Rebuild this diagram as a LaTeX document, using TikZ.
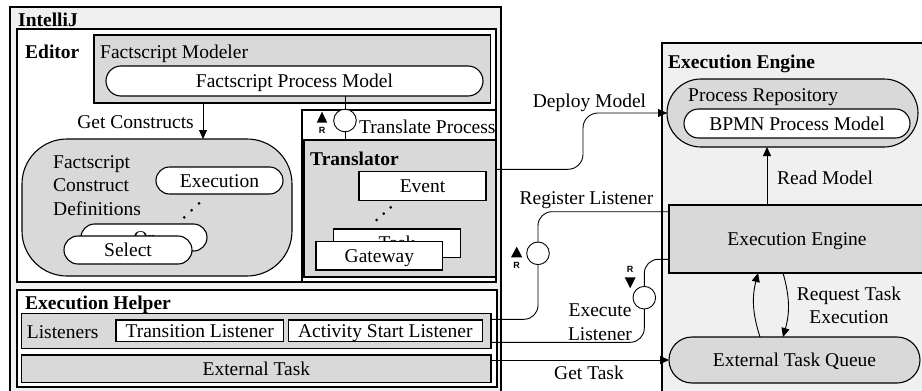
\documentclass[tikz,border=0pt]{standalone}
\usepackage{fontspec}
\setmainfont{Liberation Serif}
\newfontfamily\rfont{Liberation Sans}
\usetikzlibrary{arrows.meta,calc}
\definecolor{lightbg}{HTML}{F0F0F0}
\definecolor{boxgray}{HTML}{D9D9D9}
\begin{document}
\begin{tikzpicture}[x=1pt,y=-1pt,
  every node/.style={font=\fontsize{19.5}{23.5}\selectfont},
  box/.style={draw, line width=1.1pt, inner sep=0pt, outer sep=0pt, text height=13pt, text depth=0pt},
  wbox/.style={box, fill=white},
  gbox/.style={box, fill=boxgray},
  lbox/.style={box, fill=lightbg},
  txt/.style={inner sep=0pt, text height=13pt, text depth=0pt},
  ttl/.style={txt, anchor=west, font=\fontsize{19.5}{23.5}\selectfont\bfseries},
  conn/.style={draw, line width=0.9pt},
  arr/.style={conn, -{Triangle[length=9pt,width=8pt]}},
  lolli/.style={circle, draw, fill=white, line width=0.9pt, minimum size=22.6pt, inner sep=0pt},
  rmark/.style={inner sep=0pt, font=\fontsize{9}{9}\selectfont\rfont\bfseries},
  dot/.style={circle, fill, inner sep=0pt, minimum size=3pt},
]
\useasboundingbox (0,0) rectangle (922,391);
\clip (0,0) rectangle (922,391);

% ---------------- IntelliJ ----------------
\node[lbox, minimum width=491pt, minimum height=390pt, anchor=north west] (ij) at (10,7) {};
\node[ttl] (ijt) at (18,20) {IntelliJ};
\node[wbox, minimum width=479pt, minimum height=253pt] (editor) at (256.5,155.5) {};
\node[ttl] (edt) at (25,52) {Editor};
\draw[line width=1.1pt] (302,282) -- (302,110) -- (496,110);

\node[gbox, minimum width=396.7pt, minimum height=68pt] (modeler) at (292.35,69) {};
\node[txt, anchor=west] (modt) at (100,52) {Factscript Modeler};
\node[wbox, rounded corners=15pt, minimum width=377pt, minimum height=30pt] (pmodel) at (294.5,81) {Factscript Process Model};

\node[gbox, rounded corners=45pt, minimum width=270pt, minimum height=137pt] (defs) at (157,207.5) {};
\node[anchor=west, align=left, inner sep=0pt] (defst) at (53,185.5) {Factscript\\Construct\\Definitions};
\node[wbox, rounded corners=13.5pt, minimum width=127pt, minimum height=27pt] (cexec) at (219.5,180.5) {Execution};
\node[dot] (cd1) at (184.3,217.3) {};
\node[dot] (cd2) at (191.6,210.3) {};
\node[dot] (cd3) at (199,203.3) {};
\node[wbox, rounded corners=13.5pt, minimum width=126pt, minimum height=27pt] (cor) at (144,237.5) {Or};
\node[wbox, rounded corners=14pt, minimum width=128pt, minimum height=28pt] (csel) at (128,250) {Select};

\draw[arr] ([xshift=-89.35pt]modeler.south) -- ([xshift=-89.35pt]modeler.south |- defs.north);
\node[txt, anchor=east] (gct) at (194,122) {Get Constructs};

\node[gbox, minimum width=192pt, minimum height=137pt] (trans) at (400,208.5) {};
\node[ttl] (trt) at (310,159) {Translator};
\node[wbox, minimum width=127pt, minimum height=29pt] (tev) at (422.5,186.2) {Event};
\node[dot] (td1) at (376.7,220) {};
\node[dot] (td2) at (383.7,213.7) {};
\node[dot] (td3) at (390.7,207.3) {};
\node[wbox, minimum width=127.4pt, minimum height=28.7pt] (ttask) at (397,243.35) {Task};
\node[wbox, minimum width=126.7pt, minimum height=28.3pt] (tgw) at (379.35,255.85) {Gateway};

\draw[conn] ([xshift=50.5pt]pmodel.south) -- ([xshift=50.5pt]pmodel.south |- trans.north);
\node[lolli] (tpc) at (345,120.5) {};
\fill (316.7,122.7) -- (327.3,122.7) -- (322,111.7) -- cycle;
\node[rmark] (tr) at (322,130.3) {R};
\node[txt, anchor=west] (tpt) at (359,127) {Translate Process};

% ---------------- Execution Helper ----------------
\node[wbox, minimum width=480pt, minimum height=97pt] (helper) at (257,338.5) {};
\node[ttl] (eht) at (25,302.7) {Execution Helper};
\node[gbox, minimum width=469.3pt, minimum height=35pt] (lis) at (256.35,330.8) {};
\node[txt, anchor=west] (list) at (26.7,331.7) {Listeners};
\node[wbox, minimum width=167.3pt, minimum height=21.7pt] (tl) at (199.65,330.85) {Transition Listener};
\node[wbox, minimum width=194pt, minimum height=21.7pt] (al) at (385.3,330.85) {Activity Start Listener};
\node[gbox, minimum width=469.3pt, minimum height=27.7pt] (ext) at (256.35,368.85) {External Task};

% ---------------- Execution Engine ----------------
\node[lbox, minimum width=270pt, minimum height=360pt, anchor=north west] (ee) at (662,43) {};
\node[ttl] (eet) at (668,62) {Execution Engine};
\node[gbox, rounded corners=34pt, minimum width=251pt, minimum height=68pt] (repo) at (792.5,113) {};
\node[txt, anchor=west] (repot) at (688,95) {Process Repository};
\node[wbox, rounded corners=14.5pt, minimum width=226pt, minimum height=29pt] (bpmn) at (797,123.5) {BPMN Process Model};
\node[gbox, minimum width=256pt, minimum height=68pt] (engbox) at (797,239) {Execution Engine};
\node[gbox, rounded corners=23pt, minimum width=251pt, minimum height=46pt] (queue) at (794.5,360) {External Task Queue};

\draw[arr] ([xshift=-30pt]engbox.north) -- ([xshift=-30pt]engbox.north |- repo.south);
\node[txt, anchor=west] (rmt) at (777,178) {Read Model};

\draw[arr] ([xshift=-34.5pt]queue.north) to[bend left=16] ([xshift=-39pt]engbox.south);
\draw[arr] ([xshift=-14pt]engbox.south) to[bend left=16] ([xshift=-11.5pt]queue.north);
\node[align=center, inner sep=0pt] (rtt) at (849,305.5) {Request Task\\Execution};

% ---------------- Connectors ----------------
\coordinate (dm1) at (583,169.3);
\coordinate (dm2) at (583,113);
\draw[arr, rounded corners=15pt] (trans.east |- dm1) -- (dm1) -- (dm2) -- (repo.west);
\node[txt] (dmt) at (589.5,100.5) {Deploy Model};

\coordinate (rl1) at (538,211.7);
\coordinate (rl2) at (538,319.3);
\draw[conn, rounded corners=14pt] (engbox.west |- rl1) -- (rl1) -- (rl2) -- (lis.east |- rl2);
\node[lolli] (rlc) at (538,253.3) {};
\fill (511,257.3) -- (522.3,257.3) -- (516.7,246.7) -- cycle;
\node[rmark] (rlr) at (516.7,265.3) {R};
\node[txt] (rlt) at (586.5,197.5) {Register Listener};

\coordinate (el1) at (644.3,259.3);
\coordinate (el2) at (644.3,342.3);
\draw[conn, rounded corners=14pt] (engbox.west |- el1) -- (el1) -- (el2) -- (lis.east |- el2);
\node[lolli] (elc) at (644.3,297.7) {};
\node[rmark] (elr) at (630.2,269.5) {R};
\fill (624.7,277.3) -- (635.7,277.3) -- (630.2,288.3) -- cycle;
\node[align=center, inner sep=0pt] (elt) at (600,322) {Execute\\Listener};

\draw[arr] (ext.east |- queue.west) -- (queue.west);
\node[txt] (gtt) at (589,373) {Get Task};
\end{tikzpicture}
\end{document}
